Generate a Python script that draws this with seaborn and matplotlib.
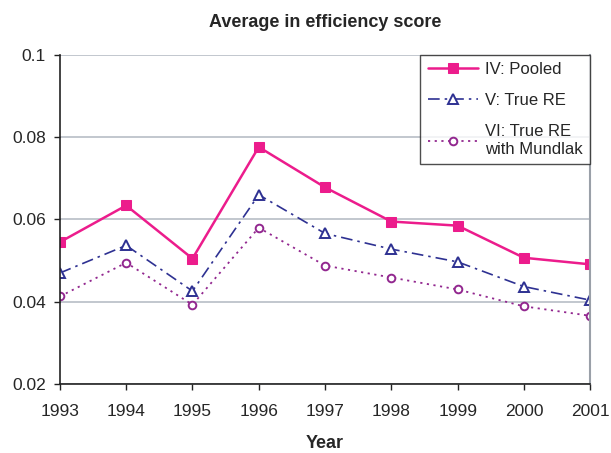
import matplotlib

matplotlib.use("Agg")
import matplotlib.pyplot as plt  # noqa: E402
import pandas as pd  # noqa: E402
import seaborn as sns  # noqa: E402

years = [1993, 1994, 1995, 1996, 1997, 1998, 1999, 2000, 2001]
pooled = [0.0545, 0.0634, 0.0505, 0.0776, 0.0678, 0.0595, 0.0585, 0.0507, 0.0491]
true_re = [0.0470, 0.0537, 0.0426, 0.0660, 0.0566, 0.0528, 0.0497, 0.0437, 0.0404]
mundlak = [0.0413, 0.0495, 0.0393, 0.0580, 0.0488, 0.0459, 0.0430, 0.0389, 0.0366]

series_names = ["IV: Pooled", "V: True RE", "VI: True RE\nwith Mundlak"]
y_ticks = [0.02, 0.04, 0.06, 0.08, 0.1]
y_tick_labels = ["0.02", "0.04", "0.06", "0.08", "0.1"]

sns.set_theme(style="white")
plt.rcParams["font.family"] = ["Liberation Sans", "DejaVu Sans"]

styles = [
    dict(color="#EC1C8C", marker="s", linestyle="-", markersize=6.5, mfc="#EC1C8C", mec="#EC1C8C", lw=1.8),
    dict(color="#2E3192", marker="^", linestyle=(0, (7, 3, 1.5, 3)), markersize=6.5, mfc="white", mec="#2E3192",
         mew=1.4, lw=1.2),
    dict(color="#92278F", marker="o", linestyle=(0, (1.2, 2.5)), markersize=5.5, mfc="white", mec="#92278F",
         mew=1.4, lw=1.3),
]

fig = plt.figure(figsize=(6.11, 4.53), dpi=100)
ax = fig.add_axes([0.098, 0.152, 0.868, 0.727])

for name, values, st in zip(series_names, [pooled, true_re, mundlak], styles):
    df = pd.DataFrame({"year": years, "value": values})
    sns.lineplot(data=df, x="year", y="value", ax=ax, label=name, **st)

ax.set_xlim(years[0], years[-1])
ax.set_ylim(0.02, 0.1)
ax.set_xticks(years)
ax.set_xticklabels([str(y) for y in years])
ax.set_yticks(y_ticks)
ax.set_yticklabels(y_tick_labels)
ax.yaxis.grid(True, color="#B8BEC6", lw=1.2)
ax.set_axisbelow(True)

for side in ["left", "bottom"]:
    ax.spines[side].set_color("#222222")
    ax.spines[side].set_linewidth(1.2)
ax.spines["top"].set_visible(False)
ax.spines["right"].set_color("#9AA0A8")
ax.spines["right"].set_linewidth(1.5)

ax.tick_params(axis="both", which="both", direction="out", length=4, width=1, color="#222222",
               labelsize=12.5, bottom=True, left=True, pad=6)
ax.tick_params(axis="x", pad=10)

ax.set_xlabel("Year", fontsize=13, fontweight="bold", labelpad=12)
ax.set_ylabel("")
ax.set_title("Average in efficiency score", fontsize=13, fontweight="bold", pad=20)

leg = ax.legend(loc="upper right", bbox_to_anchor=(1.0, 1.0), borderaxespad=0, fontsize=12,
                frameon=True, fancybox=False, handlelength=3.0, labelspacing=0.95,
                borderpad=0.45, handletextpad=0.45)
leg.get_frame().set_edgecolor("#222222")
leg.get_frame().set_linewidth(1.0)
for txt in leg.get_texts():
    txt.set_linespacing(1.25)

fig.savefig("out.png", dpi=100)
